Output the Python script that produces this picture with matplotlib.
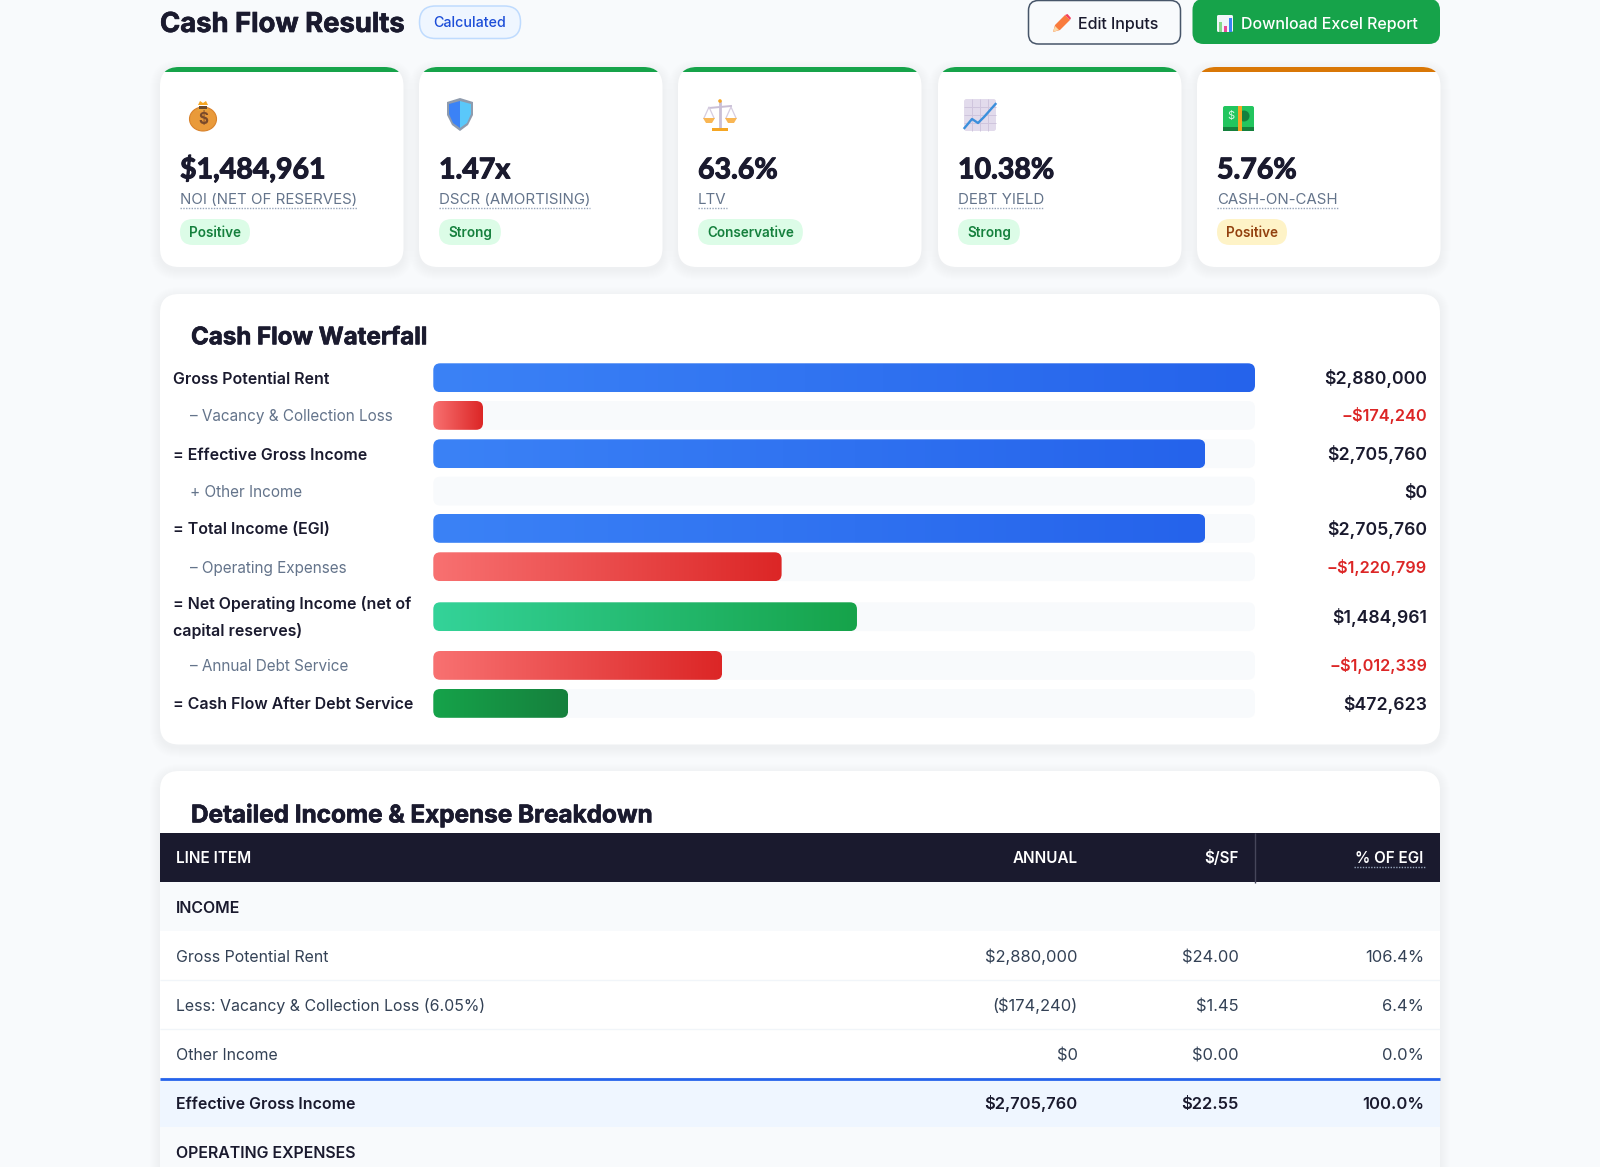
import numpy as np
import matplotlib
matplotlib.use('Agg')
import matplotlib.pyplot as plt
import matplotlib.patheffects as pe
from matplotlib.patches import FancyBboxPatch, Polygon, Circle, Rectangle, Ellipse
from matplotlib.colors import LinearSegmentedColormap

# kpi cards
kpi_values = ['$1,484,961', '1.47x', '63.6%', '10.38%', '5.76%']
kpi_labels = ['NOI (NET OF RESERVES)', 'DSCR (AMORTISING)', 'LTV', 'DEBT YIELD', 'CASH-ON-CASH']
kpi_pills = ['Positive', 'Strong', 'Conservative', 'Strong', 'Positive']
kpi_state = ['good', 'good', 'good', 'good', 'warn']

# waterfall
wf_labels = ['Gross Potential Rent', '– Vacancy & Collection Loss', '= Effective Gross Income',
             '+ Other Income', '= Total Income (EGI)', '– Operating Expenses',
             '= Net Operating Income (net of\ncapital reserves)', '– Annual Debt Service',
             '= Cash Flow After Debt Service']
wf_values = [2880000, -174240, 2705760, 0, 2705760, -1220799, 1484961, -1012339, 472623]
wf_kind = ['blue', 'red', 'blue', 'none', 'blue', 'red', 'green', 'red', 'dark']

# table
tbl_head = ['LINE ITEM', 'ANNUAL', '$/SF', '% OF EGI']
tbl_items = ['INCOME', 'Gross Potential Rent', 'Less: Vacancy & Collection Loss (6.05%)', 'Other Income',
             'Effective Gross Income', 'OPERATING EXPENSES']
tbl_annual = ['', '$2,880,000', '($174,240)', '$0', '$2,705,760', '']
tbl_psf = ['', '$24.00', '$1.45', '$0.00', '$22.55', '']
tbl_pct = ['', '106.4%', '6.4%', '0.0%', '100.0%', '']
tbl_kind = ['section', 'row', 'row', 'row', 'total', 'section']

INK = '#1a1a2e'
plt.rcParams['font.family'] = ['Inter', 'DejaVu Sans']
LATO = ['Lato', 'DejaVu Sans']


def px(size):
    return size * 0.72


fig = plt.figure(figsize=(16, 11.67), dpi=100, facecolor='#f8fafc')
ax = fig.add_axes([0, 0, 1, 1])
ax.set_xlim(0, 1600)
ax.set_ylim(1167, 0)
ax.axis('off')


def box(x0, y0, x1, y1, r, fc, ec='none', lw=0, z=2, alpha=None):
    p = FancyBboxPatch((x0, y0), x1 - x0, y1 - y0, boxstyle='round,pad=0,rounding_size=%s' % r,
                       fc=fc, ec=ec, lw=lw, zorder=z, alpha=alpha)
    ax.add_patch(p)
    return p


def card(x0, y0, x1, y1, r=19):
    for i in range(1, 11):
        box(x0 - i, y0 - i + 3, x1 + i, y1 + i + 3, r + i, '#1a1a2e', z=1, alpha=0.0055)
    return box(x0, y0, x1, y1, r, 'white')


def txt(x, y, s, size, color=INK, weight='normal', ha='left', family=None, z=6, heavy=0):
    # y is the middle of the capitals, so every text in a row sits on one baseline
    t = ax.text(x, y + 0.364 * size, s, fontsize=px(size), color=color, fontweight=weight, ha=ha, va='baseline',
                family=family if family else plt.rcParams['font.family'], zorder=z)
    if heavy:
        t.set_path_effects([pe.withStroke(linewidth=heavy, foreground=color)])
    return t


def icon_bag(x, y):
    ax.add_patch(Ellipse((x + 14, y + 20), 27, 24, fc='#e99a3a', ec='#d9822b', lw=0.8, zorder=4))
    ax.add_patch(Polygon([(x + 8, y + 12), (x + 20, y + 12), (x + 17, y + 7), (x + 11, y + 7)], fc='#e8a33d', zorder=4))
    ax.add_patch(Rectangle((x + 10, y + 7), 8, 2.5, fc='#6b4a2b', zorder=5))
    ax.add_patch(Polygon([(x + 9, y + 6), (x + 11, y + 2), (x + 14, y + 4), (x + 17, y + 2), (x + 19, y + 6)], fc='#f5a623', zorder=4))
    ax.text(x + 14, y + 20.5, '$', fontsize=11, color='#7a4a2a', ha='center', va='center', fontweight='bold', zorder=6)


def icon_shield(x, y):
    out = [(x, y + 4), (x + 13, y), (x + 26, y + 4), (x + 26, y + 17), (x + 21, y + 27), (x + 13, y + 33), (x + 5, y + 27), (x, y + 17)]
    ax.add_patch(Polygon(out, fc='#8f9bad', zorder=4))
    ax.add_patch(Polygon([(x + 2, y + 6), (x + 13, y + 3), (x + 13, y + 30), (x + 6, y + 25), (x + 2, y + 16)], fc='#3b82f6', zorder=5))
    ax.add_patch(Polygon([(x + 24, y + 6), (x + 13, y + 3), (x + 13, y + 30), (x + 20, y + 25), (x + 24, y + 16)], fc='#5ac8fa', zorder=5))


def icon_scales(x, y):
    ax.plot([x + 16, x + 16], [y + 3, y + 29], color='#c9bfd6', lw=2, zorder=4)
    ax.plot([x + 5, x + 27], [y + 9, y + 7], color='#c9bfd6', lw=1.4, zorder=4)
    ax.add_patch(Circle((x + 16, y + 2), 1.8, fc='#f5a623', zorder=5))
    for cx in (x + 5, x + 27):
        ax.plot([cx - 5, cx, cx + 5], [y + 19, y + 8, y + 19], color='#d6cde0', lw=0.9, zorder=4)
        ax.add_patch(Polygon([(cx - 6, y + 19), (cx + 6, y + 19), (cx + 3, y + 24), (cx - 3, y + 24)], fc='#f9b654', zorder=5))
    ax.add_patch(Rectangle((x + 8, y + 29), 16, 3, fc='#f5a623', zorder=5))


def icon_chart(x, y):
    box(x, y, x + 32, y + 32, 2.5, '#e2dbec', z=4)
    for k in (8, 16, 24):
        ax.plot([x + k, x + k], [y, y + 32], color='#cfc5dd', lw=0.7, zorder=5, solid_capstyle='butt')
        ax.plot([x, x + 32], [y + k, y + k], color='#cfc5dd', lw=0.7, zorder=5, solid_capstyle='butt')
    ax.plot([x + 0.5, x + 8, x + 14, x + 20, x + 31.5], [y + 29, y + 20, y + 24, y + 18, y + 5], color='#3b8fdc', lw=1.7, zorder=6)


def icon_cash(x, y):
    box(x, y, x + 31, y + 25, 2, '#22c55e', z=4)
    ax.add_patch(Rectangle((x, y + 21), 31, 4, fc='#15803d', zorder=5))
    ax.add_patch(Circle((x + 21, y + 10), 5.5, fc='#15803d', zorder=5))
    ax.add_patch(Rectangle((x + 14.5, y), 4.5, 25, fc='#f5a623', zorder=6))
    ax.text(x + 8, y + 10, '$', fontsize=8, color='#d1fae5', ha='center', va='center', zorder=6)


def icon_pencil(x, y):
    ax.add_patch(Polygon([(x, y + 17), (x + 2, y + 10), (x + 12, y), (x + 17, y + 5), (x + 7, y + 15)], fc='#f97b3d', zorder=6))
    ax.add_patch(Polygon([(x, y + 17), (x + 2, y + 11), (x + 6, y + 15)], fc='#fcd9a8', zorder=7))
    ax.add_patch(Polygon([(x + 12, y), (x + 14.5, y - 1), (x + 18, y + 3), (x + 17, y + 5)], fc='#f43f5e', zorder=7))


def icon_bars(x, y):
    box(x, y, x + 16, y + 17, 1.5, '#f1f5f9', z=6)
    for k, top, col in zip((2, 7, 12), (7, 11, 3), ('#86d98a', '#ec4899', '#3b82f6')):
        ax.add_patch(Rectangle((x + k, y + top), 3, 17 - top, fc=col, zorder=7))


# header row
txt(160, 22, 'Cash Flow Results', 27.4, weight='bold', heavy=0.5)
box(419.5, 6, 520.5, 38.5, 16, '#eff6ff', ec='#bfdbfe', lw=1.1)
txt(470, 22, 'Calculated', 14.3, color='#1d4ed8', weight='medium', ha='center')

box(1028.5, 0.5, 1180.5, 44, 10, 'none', ec='#475569', lw=1.1)
icon_pencil(1053, 15)
txt(1077.5, 23.5, 'Edit Inputs', 16, weight='medium')

box(1192.5, -1, 1440, 44, 11, '#16a34a')
icon_bars(1217, 15)
txt(1241, 23.5, 'Download Excel Report', 16, color='white', weight='medium')

# kpi row
card_left = [160, 419, 678, 938, 1197]
icons = [(icon_bag, 189, 99), (icon_shield, 447, 98), (icon_scales, 704, 99), (icon_chart, 964, 99), (icon_cash, 1223, 106)]
fig.canvas.draw()
rend = fig.canvas.get_renderer()
for i, x0 in enumerate(card_left):
    good = kpi_state[i] == 'good'
    c = card(x0, 67, x0 + 243.5, 267)
    top = ax.add_patch(Rectangle((x0, 67), 243.5, 4.5, fc='#16a34a' if good else '#d97706', zorder=3))
    top.set_clip_path(c)
    fn, ix, iy = icons[i]
    fn(ix, iy)
    tx = x0 + 20
    txt(tx, 168, kpi_values[i], 28.5, weight='bold', family=LATO, heavy=0.8)
    lab = txt(tx, 199, kpi_labels[i], 15, color='#64748b')
    w = lab.get_window_extent(rend).width
    ax.plot([tx, tx + w], [207.5, 207.5], color='#94a3b8', lw=1, ls=(0, (1, 1)), zorder=5)
    pill = txt(tx + 9, 232, kpi_pills[i], 13.5, color='#15803d' if good else '#92400e', weight='semibold')
    w = pill.get_window_extent(rend).width
    box(tx, 219, tx + w + 18, 245, 13, '#dcfce7' if good else '#fef3c7', z=4)

# waterfall card
card(160, 294, 1440, 744.5)
txt(191, 335.5, 'Cash Flow Waterfall', 24.1, weight='bold', heavy=0.5)

track_l, track_r = 433.3, 1255
row_top = [363.3, 401, 439.3, 476.7, 514, 552.3, 602.3, 651, 689]
row_h = 28.8
y_top, y_bot = 360, 722
bar_ax = fig.add_axes([track_l / 1600, 1 - y_bot / 1167, (track_r - track_l) / 1600, (y_bot - y_top) / 1167])
bar_ax.patch.set_alpha(0)
bar_ax.axis('off')
bar_ax.set_zorder(2)
full = max(wf_values)
units_per_px = full / (track_r - track_l)
grads = {'blue': ('#3b82f6', '#2563eb'), 'red': ('#f87171', '#dc2626'),
         'green': ('#34d399', '#16a34a'), 'dark': ('#16a34a', '#15803d')}
ramp = np.linspace(0, 1, 256).reshape(1, -1)
for i, v in enumerate(wf_values):
    top = row_top[i]
    rnd = 'round,pad=0,rounding_size=%s' % (7 * units_per_px)
    bar_ax.add_patch(FancyBboxPatch((0, top), full, row_h, boxstyle=rnd, mutation_aspect=1 / units_per_px,
                                    fc='#f8fafc', ec='none', zorder=1))
    if wf_kind[i] != 'none':
        p = FancyBboxPatch((0, top), abs(v), row_h, boxstyle=rnd, mutation_aspect=1 / units_per_px,
                           fc='none', ec='none', zorder=2)
        bar_ax.add_patch(p)
        cm = LinearSegmentedColormap.from_list('g', grads[wf_kind[i]])
        im = bar_ax.imshow(ramp, cmap=cm, extent=(0, abs(v), top + row_h, top), aspect='auto', zorder=2)
        im.set_clip_path(p)
bar_ax.set_xlim(0, full)
bar_ax.set_ylim(y_bot, y_top)

for i, v in enumerate(wf_values):
    yc = row_top[i] + row_h / 2 + 0.3
    sub = wf_labels[i][0] in '–+'
    if sub:
        txt(189.7, yc, wf_labels[i], 15.3, color='#64748b')
    elif '\n' in wf_labels[i]:
        a, b = wf_labels[i].split('\n')
        txt(173, 603.5, a, 15.9, weight='semibold')
        txt(173, 630, b, 15.9, weight='semibold')
    else:
        txt(173, yc, wf_labels[i], 15.9, weight='semibold')
    if v < 0:
        txt(1427, row_top[i] + row_h / 2, '−${:,}'.format(-v), 16.3, color='#dc2626', weight='semibold', ha='right')
    else:
        txt(1427, row_top[i] + row_h / 2, '${:,}'.format(v), 17.7, weight='semibold', ha='right')

# table card
tc = card(160, 771, 1440, 1190)
txt(191, 813.5, 'Detailed Income & Expense Breakdown', 24.3, weight='bold', heavy=0.5)
ax.add_patch(Rectangle((160, 832.5), 1280, 50, fc=INK, zorder=3))
ax.plot([1254.5, 1254.5], [832.5, 882.5], color='#46465a', lw=1, zorder=4, solid_capstyle='butt')
txt(175.5, 857, tbl_head[0], 15.2, color='white', weight='semibold')
col_r = [1078, 1238.5, 1423]
for k in range(3):
    txt(col_r[k], 857, tbl_head[k + 1], 15.2, color='white', weight='semibold', ha='right')
ax.plot([1354, 1425], [866.5, 866.5], color='#94a3b8', lw=1, ls=(0, (1, 1)), zorder=5)

num_r = [1077.5, 1239, 1424]
y = 882
for i, kind in enumerate(tbl_kind):
    h = 49
    fc = {'section': '#f8fafc', 'row': 'white', 'total': '#eff6ff'}[kind]
    ax.add_patch(Rectangle((160, y), 1280, h, fc=fc, zorder=3))
    yc = y + h / 2 + 0.5
    if kind == 'row':
        txt(175.5, yc, tbl_items[i], 15.9, color='#334155')
        ax.plot([160, 1440], [y + h, y + h], color='#f1f5f9', lw=1, zorder=4, solid_capstyle='butt')
    elif kind == 'total':
        ax.plot([160, 1440], [y + 0.5, y + 0.5], color='#2563eb', lw=2, zorder=5, solid_capstyle='butt')
        txt(175.5, yc, tbl_items[i], 15.9, weight='semibold')
    else:
        txt(175.5, yc, tbl_items[i], 15.9, weight='semibold')
    for k, col in enumerate((tbl_annual, tbl_psf, tbl_pct)):
        if col[i]:
            txt(num_r[k], yc, col[i], 16.5, color=INK if kind == 'total' else '#334155',
                weight='semibold' if kind == 'total' else 'normal', ha='right')
    y += h

fig.savefig('out.png', dpi=100, facecolor=fig.get_facecolor())
